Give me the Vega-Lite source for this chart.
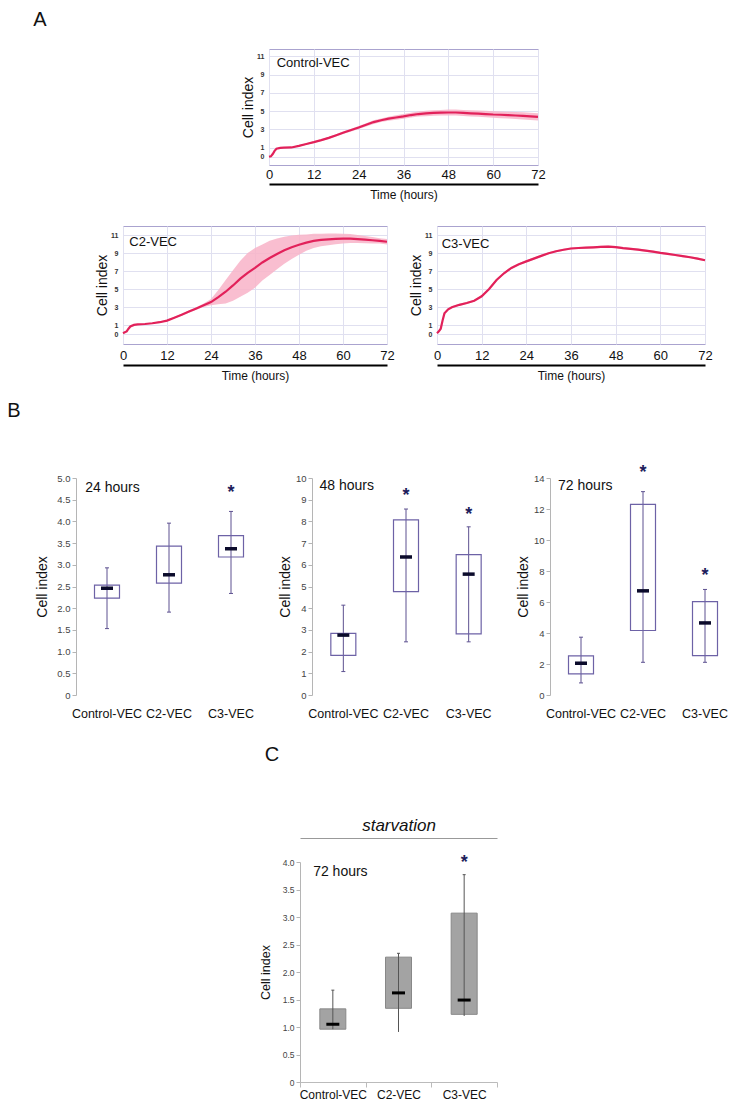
{
 "$schema": "https://vega.github.io/schema/vega-lite/v6.json",
 "padding": 0,
 "background": "white",
 "spacing": 8,
 "config": {
  "font": "Liberation Sans",
  "view": {"stroke": null},
  "axis": {"titleFontWeight": "normal", "labelFont": "Liberation Sans", "titleFont": "Liberation Sans", "titleColor": "#111111"},
  "tick": {"opacity": 1}
 },
 "datasets": {
  "ci": [
   {"panel":"Control-VEC","t":0,"v":0,"lo":0,"hi":0},
   {"panel":"Control-VEC","t":0.5,"v":0.05,"lo":0.03,"hi":0.07},
   {"panel":"Control-VEC","t":1,"v":0.3,"lo":0.26,"hi":0.34},
   {"panel":"Control-VEC","t":1.5,"v":0.65,"lo":0.6,"hi":0.7},
   {"panel":"Control-VEC","t":2,"v":0.88,"lo":0.83,"hi":0.93},
   {"panel":"Control-VEC","t":3,"v":0.98,"lo":0.93,"hi":1.03},
   {"panel":"Control-VEC","t":4,"v":1.0,"lo":0.95,"hi":1.05},
   {"panel":"Control-VEC","t":6,"v":1.02,"lo":0.96,"hi":1.08},
   {"panel":"Control-VEC","t":8,"v":1.2,"lo":1.13,"hi":1.27},
   {"panel":"Control-VEC","t":10,"v":1.4,"lo":1.32,"hi":1.48},
   {"panel":"Control-VEC","t":12,"v":1.6,"lo":1.5,"hi":1.7},
   {"panel":"Control-VEC","t":14,"v":1.82,"lo":1.72,"hi":1.92},
   {"panel":"Control-VEC","t":16,"v":2.07,"lo":1.95,"hi":2.19},
   {"panel":"Control-VEC","t":18,"v":2.35,"lo":2.23,"hi":2.47},
   {"panel":"Control-VEC","t":20,"v":2.65,"lo":2.51,"hi":2.79},
   {"panel":"Control-VEC","t":22,"v":2.93,"lo":2.78,"hi":3.08},
   {"panel":"Control-VEC","t":24,"v":3.2,"lo":3.04,"hi":3.36},
   {"panel":"Control-VEC","t":26,"v":3.5,"lo":3.32,"hi":3.68},
   {"panel":"Control-VEC","t":28,"v":3.8,"lo":3.6,"hi":4.0},
   {"panel":"Control-VEC","t":30,"v":4.0,"lo":3.8,"hi":4.2},
   {"panel":"Control-VEC","t":32,"v":4.17,"lo":3.95,"hi":4.39},
   {"panel":"Control-VEC","t":34,"v":4.3,"lo":4.06,"hi":4.54},
   {"panel":"Control-VEC","t":36,"v":4.42,"lo":4.17,"hi":4.67},
   {"panel":"Control-VEC","t":38,"v":4.57,"lo":4.31,"hi":4.83},
   {"panel":"Control-VEC","t":40,"v":4.68,"lo":4.4,"hi":4.96},
   {"panel":"Control-VEC","t":42,"v":4.75,"lo":4.45,"hi":5.05},
   {"panel":"Control-VEC","t":44,"v":4.8,"lo":4.5,"hi":5.1},
   {"panel":"Control-VEC","t":46,"v":4.83,"lo":4.53,"hi":5.13},
   {"panel":"Control-VEC","t":48,"v":4.85,"lo":4.53,"hi":5.17},
   {"panel":"Control-VEC","t":50,"v":4.85,"lo":4.53,"hi":5.17},
   {"panel":"Control-VEC","t":52,"v":4.8,"lo":4.47,"hi":5.13},
   {"panel":"Control-VEC","t":54,"v":4.76,"lo":4.42,"hi":5.1},
   {"panel":"Control-VEC","t":56,"v":4.72,"lo":4.37,"hi":5.07},
   {"panel":"Control-VEC","t":58,"v":4.68,"lo":4.33,"hi":5.03},
   {"panel":"Control-VEC","t":60,"v":4.63,"lo":4.27,"hi":4.99},
   {"panel":"Control-VEC","t":62,"v":4.6,"lo":4.23,"hi":4.97},
   {"panel":"Control-VEC","t":64,"v":4.56,"lo":4.18,"hi":4.94},
   {"panel":"Control-VEC","t":66,"v":4.52,"lo":4.14,"hi":4.9},
   {"panel":"Control-VEC","t":68,"v":4.48,"lo":4.09,"hi":4.87},
   {"panel":"Control-VEC","t":70,"v":4.43,"lo":4.03,"hi":4.83},
   {"panel":"Control-VEC","t":72,"v":4.37,"lo":3.97,"hi":4.77},
   {"panel":"C2-VEC","t":0,"v":0.1,"lo":0.1,"hi":0.1},
   {"panel":"C2-VEC","t":0.5,"v":0.2,"lo":0.18,"hi":0.22},
   {"panel":"C2-VEC","t":1,"v":0.3,"lo":0.27,"hi":0.33},
   {"panel":"C2-VEC","t":1.5,"v":0.6,"lo":0.56,"hi":0.64},
   {"panel":"C2-VEC","t":2,"v":0.85,"lo":0.8,"hi":0.9},
   {"panel":"C2-VEC","t":3,"v":1.02,"lo":0.97,"hi":1.07},
   {"panel":"C2-VEC","t":4,"v":1.08,"lo":1.03,"hi":1.13},
   {"panel":"C2-VEC","t":6,"v":1.12,"lo":1.06,"hi":1.18},
   {"panel":"C2-VEC","t":8,"v":1.2,"lo":1.14,"hi":1.26},
   {"panel":"C2-VEC","t":10,"v":1.32,"lo":1.25,"hi":1.39},
   {"panel":"C2-VEC","t":12,"v":1.5,"lo":1.42,"hi":1.58},
   {"panel":"C2-VEC","t":14,"v":1.82,"lo":1.72,"hi":1.92},
   {"panel":"C2-VEC","t":16,"v":2.15,"lo":2.05,"hi":2.25},
   {"panel":"C2-VEC","t":18,"v":2.5,"lo":2.38,"hi":2.62},
   {"panel":"C2-VEC","t":20,"v":2.85,"lo":2.71,"hi":2.99},
   {"panel":"C2-VEC","t":22,"v":3.2,"lo":3.0,"hi":3.4},
   {"panel":"C2-VEC","t":24,"v":3.55,"lo":3.2,"hi":3.9},
   {"panel":"C2-VEC","t":26,"v":4.1,"lo":3.3,"hi":4.9},
   {"panel":"C2-VEC","t":28,"v":4.7,"lo":3.4,"hi":6.0},
   {"panel":"C2-VEC","t":30,"v":5.4,"lo":3.7,"hi":7.1},
   {"panel":"C2-VEC","t":32,"v":6.15,"lo":4.15,"hi":8.15},
   {"panel":"C2-VEC","t":34,"v":6.8,"lo":4.6,"hi":9.0},
   {"panel":"C2-VEC","t":36,"v":7.35,"lo":5.15,"hi":9.55},
   {"panel":"C2-VEC","t":38,"v":7.95,"lo":5.95,"hi":9.95},
   {"panel":"C2-VEC","t":40,"v":8.45,"lo":6.55,"hi":10.35},
   {"panel":"C2-VEC","t":42,"v":8.9,"lo":7.2,"hi":10.6},
   {"panel":"C2-VEC","t":44,"v":9.3,"lo":7.8,"hi":10.8},
   {"panel":"C2-VEC","t":46,"v":9.65,"lo":8.35,"hi":10.95},
   {"panel":"C2-VEC","t":48,"v":9.92,"lo":8.82,"hi":11.02},
   {"panel":"C2-VEC","t":50,"v":10.15,"lo":9.25,"hi":11.05},
   {"panel":"C2-VEC","t":52,"v":10.35,"lo":9.55,"hi":11.15},
   {"panel":"C2-VEC","t":54,"v":10.45,"lo":9.75,"hi":11.15},
   {"panel":"C2-VEC","t":56,"v":10.52,"lo":9.87,"hi":11.17},
   {"panel":"C2-VEC","t":58,"v":10.58,"lo":9.98,"hi":11.18},
   {"panel":"C2-VEC","t":60,"v":10.6,"lo":10.05,"hi":11.15},
   {"panel":"C2-VEC","t":62,"v":10.6,"lo":10.1,"hi":11.1},
   {"panel":"C2-VEC","t":64,"v":10.55,"lo":10.1,"hi":11.0},
   {"panel":"C2-VEC","t":66,"v":10.48,"lo":10.08,"hi":10.88},
   {"panel":"C2-VEC","t":68,"v":10.42,"lo":10.07,"hi":10.77},
   {"panel":"C2-VEC","t":70,"v":10.35,"lo":10.05,"hi":10.65},
   {"panel":"C2-VEC","t":72,"v":10.25,"lo":9.95,"hi":10.55},
   {"panel":"C3-VEC","t":0,"v":0.1,"lo":0.1,"hi":0.1},
   {"panel":"C3-VEC","t":0.5,"v":0.3,"lo":0.22,"hi":0.38},
   {"panel":"C3-VEC","t":1,"v":0.6,"lo":0.5,"hi":0.7},
   {"panel":"C3-VEC","t":1.5,"v":1.5,"lo":1.38,"hi":1.62},
   {"panel":"C3-VEC","t":2,"v":2.3,"lo":2.18,"hi":2.42},
   {"panel":"C3-VEC","t":3,"v":2.75,"lo":2.63,"hi":2.87},
   {"panel":"C3-VEC","t":4,"v":2.98,"lo":2.86,"hi":3.1},
   {"panel":"C3-VEC","t":6,"v":3.25,"lo":3.13,"hi":3.37},
   {"panel":"C3-VEC","t":8,"v":3.45,"lo":3.33,"hi":3.57},
   {"panel":"C3-VEC","t":10,"v":3.7,"lo":3.58,"hi":3.82},
   {"panel":"C3-VEC","t":12,"v":4.2,"lo":4.08,"hi":4.32},
   {"panel":"C3-VEC","t":14,"v":5.0,"lo":4.88,"hi":5.12},
   {"panel":"C3-VEC","t":16,"v":6.0,"lo":5.88,"hi":6.12},
   {"panel":"C3-VEC","t":18,"v":6.75,"lo":6.63,"hi":6.87},
   {"panel":"C3-VEC","t":20,"v":7.35,"lo":7.23,"hi":7.47},
   {"panel":"C3-VEC","t":22,"v":7.75,"lo":7.63,"hi":7.87},
   {"panel":"C3-VEC","t":24,"v":8.07,"lo":7.95,"hi":8.19},
   {"panel":"C3-VEC","t":26,"v":8.38,"lo":8.26,"hi":8.5},
   {"panel":"C3-VEC","t":28,"v":8.68,"lo":8.56,"hi":8.8},
   {"panel":"C3-VEC","t":30,"v":8.97,"lo":8.85,"hi":9.09},
   {"panel":"C3-VEC","t":32,"v":9.2,"lo":9.08,"hi":9.32},
   {"panel":"C3-VEC","t":34,"v":9.36,"lo":9.24,"hi":9.48},
   {"panel":"C3-VEC","t":36,"v":9.5,"lo":9.38,"hi":9.62},
   {"panel":"C3-VEC","t":38,"v":9.56,"lo":9.44,"hi":9.68},
   {"panel":"C3-VEC","t":40,"v":9.59,"lo":9.47,"hi":9.71},
   {"panel":"C3-VEC","t":42,"v":9.63,"lo":9.51,"hi":9.75},
   {"panel":"C3-VEC","t":44,"v":9.68,"lo":9.56,"hi":9.8},
   {"panel":"C3-VEC","t":46,"v":9.71,"lo":9.59,"hi":9.83},
   {"panel":"C3-VEC","t":48,"v":9.65,"lo":9.53,"hi":9.77},
   {"panel":"C3-VEC","t":50,"v":9.55,"lo":9.43,"hi":9.67},
   {"panel":"C3-VEC","t":52,"v":9.47,"lo":9.35,"hi":9.59},
   {"panel":"C3-VEC","t":54,"v":9.38,"lo":9.26,"hi":9.5},
   {"panel":"C3-VEC","t":56,"v":9.27,"lo":9.15,"hi":9.39},
   {"panel":"C3-VEC","t":58,"v":9.15,"lo":9.03,"hi":9.27},
   {"panel":"C3-VEC","t":60,"v":9.02,"lo":8.9,"hi":9.14},
   {"panel":"C3-VEC","t":62,"v":8.91,"lo":8.79,"hi":9.03},
   {"panel":"C3-VEC","t":64,"v":8.78,"lo":8.66,"hi":8.9},
   {"panel":"C3-VEC","t":66,"v":8.66,"lo":8.54,"hi":8.78},
   {"panel":"C3-VEC","t":68,"v":8.53,"lo":8.41,"hi":8.65},
   {"panel":"C3-VEC","t":70,"v":8.38,"lo":8.26,"hi":8.5},
   {"panel":"C3-VEC","t":72,"v":8.2,"lo":8.08,"hi":8.32}
  ],
  "alab": [
   {"panel":"Control-VEC","t":2.06,"v":10.23,"label":"Control-VEC"},
   {"panel":"C2-VEC","t":1.72,"v":10.22,"label":"C2-VEC"},
   {"panel":"C3-VEC","t":1.26,"v":10.04,"label":"C3-VEC"}
  ],
  "box": [
   {"panel":"24 hours","group":"Control-VEC","lo":1.53,"q1":2.23,"med":2.46,"q3":2.53,"hi":2.93,"star":null},
   {"panel":"24 hours","group":"C2-VEC","lo":1.91,"q1":2.58,"med":2.77,"q3":3.43,"hi":3.96,"star":null},
   {"panel":"24 hours","group":"C3-VEC","lo":2.34,"q1":3.18,"med":3.37,"q3":3.67,"hi":4.23,"star":4.65},
   {"panel":"48 hours","group":"Control-VEC","lo":1.08,"q1":1.83,"med":2.76,"q3":2.84,"hi":4.14,"star":null},
   {"panel":"48 hours","group":"C2-VEC","lo":2.45,"q1":4.76,"med":6.36,"q3":8.07,"hi":8.57,"star":9.16},
   {"panel":"48 hours","group":"C3-VEC","lo":2.45,"q1":2.82,"med":5.57,"q3":6.47,"hi":7.75,"star":8.29},
   {"panel":"72 hours","group":"Control-VEC","lo":0.78,"q1":1.36,"med":2.05,"q3":2.52,"hi":3.73,"star":null},
   {"panel":"72 hours","group":"C2-VEC","lo":2.11,"q1":4.16,"med":6.72,"q3":12.3,"hi":13.12,"star":14.3},
   {"panel":"72 hours","group":"C3-VEC","lo":2.11,"q1":2.54,"med":4.65,"q3":6.03,"hi":6.81,"star":7.7}
  ],
  "starv": [
   {"group":"Control-VEC","lo":0.96,"q1":0.96,"med":1.05,"q3":1.33,"hi":1.67,"star":null},
   {"group":"C2-VEC","lo":0.91,"q1":1.34,"med":1.62,"q3":2.27,"hi":2.34,"star":null},
   {"group":"C3-VEC","lo":1.2,"q1":1.23,"med":1.49,"q3":3.07,"hi":3.77,"star":3.99}
  ],
  "blab": [
   {"panel":"24 hours","group":"Control-VEC","v":4.77,"label":"24 hours"},
   {"panel":"48 hours","group":"Control-VEC","v":9.62,"label":"48 hours"},
   {"panel":"72 hours","group":"Control-VEC","v":13.5,"label":"72 hours"},
   {"panel":"starvation","group":"Control-VEC","v":3.81,"label":"72 hours"}
  ]
 },
 "vconcat": [
  {"width": 80, "height": 40, "data": {"values": [{"label": "A"}]}, "mark": {"type": "text", "fontSize": 20, "color": "#111111"}, "encoding": {"text": {"field": "label"}}},
  {"hconcat": [
    {"width": 219, "height": 168, "data": {"values": [{"s": ""}]}, "mark": "text", "encoding": {"text": {"field": "s"}}},
    {"width": 269, "height": 116, "view": {"stroke": "#aaa3cf"}, "data": {"name": "ci"},
     "encoding": {"x": {"field": "t", "type": "quantitative", "title": "Time (hours)", "scale": {"domain": [0, 72], "nice": false},
       "axis": {"values": [0,12,24,36,48,60,72], "tickCount": 30, "format": "d", "offset": 19, "domainColor": "#000000", "domainWidth": 2, "ticks": false, "labelPadding": -16, "labelFontSize": 13, "labelFlush": false, "labelColor": "#111111", "grid": true, "gridColor": "#e0e0f0", "titleFontSize": 12, "titlePadding": 5}}},
     "layer": [
      {"transform": [{"filter": "datum.panel == 'Control-VEC'"}], "mark": {"type": "area", "color": "#f8b3c8", "opacity": 0.85},
       "encoding": {"y": {"field": "lo", "type": "quantitative", "title": "Cell index", "scale": {"domain": [-0.9, 11.8], "nice": false, "zero": false},
         "axis": {"values": [0,1,3,5,7,9,11], "tickCount": 30, "format": "d", "labelOverlap": false, "labelFontSize": 7, "labelFontWeight": "bold", "labelColor": "#333333", "labelPadding": 5, "ticks": false, "domain": false, "grid": true, "gridColor": "#e0e0f0", "titleFontSize": 14, "titlePadding": 1, "minExtent": 0}},
        "y2": {"field": "hi"}}},
      {"transform": [{"filter": "datum.panel == 'Control-VEC'"}], "mark": {"type": "line", "color": "#e2215a", "strokeWidth": 2.2},
       "encoding": {"y": {"field": "v", "type": "quantitative", "title": "Cell index", "scale": {"domain": [-0.9, 11.8], "nice": false, "zero": false}}}},
      {"data": {"name": "alab"}, "transform": [{"filter": "datum.panel == 'Control-VEC'"}], "mark": {"type": "text", "align": "left", "fontSize": 13, "color": "#111111"},
       "encoding": {"y": {"field": "v", "type": "quantitative", "title": "Cell index", "scale": {"domain": [-0.9, 11.8], "nice": false, "zero": false}}, "text": {"field": "label"}}}
     ]}
   ], "spacing": 50, "bounds": "flush"},
  {"hconcat": [
    {"width": 73, "height": 165, "data": {"values": [{"s": ""}]}, "mark": "text", "encoding": {"text": {"field": "s"}}},
    {"width": 264, "height": 118, "view": {"stroke": "#aaa3cf"}, "data": {"name": "ci"},
     "encoding": {"x": {"field": "t", "type": "quantitative", "title": "Time (hours)", "scale": {"domain": [0, 72], "nice": false},
       "axis": {"values": [0,12,24,36,48,60,72], "tickCount": 30, "format": "d", "offset": 21, "domainColor": "#000000", "domainWidth": 2, "ticks": false, "labelPadding": -16, "labelFontSize": 13, "labelFlush": false, "labelColor": "#111111", "grid": true, "gridColor": "#e0e0f0", "titleFontSize": 12, "titlePadding": 5}}},
     "layer": [
      {"transform": [{"filter": "datum.panel == 'C2-VEC'"}], "mark": {"type": "area", "color": "#f8b3c8", "opacity": 0.85},
       "encoding": {"y": {"field": "lo", "type": "quantitative", "title": "Cell index", "scale": {"domain": [-1.1, 12], "nice": false, "zero": false},
         "axis": {"values": [0,1,3,5,7,9,11], "tickCount": 30, "format": "d", "labelOverlap": false, "labelFontSize": 7, "labelFontWeight": "bold", "labelColor": "#333333", "labelPadding": 5, "ticks": false, "domain": false, "grid": true, "gridColor": "#e0e0f0", "titleFontSize": 14, "titlePadding": 1, "minExtent": 0}},
        "y2": {"field": "hi"}}},
      {"transform": [{"filter": "datum.panel == 'C2-VEC'"}], "mark": {"type": "line", "color": "#e2215a", "strokeWidth": 2.2},
       "encoding": {"y": {"field": "v", "type": "quantitative", "title": "Cell index", "scale": {"domain": [-1.1, 12], "nice": false, "zero": false}}}},
      {"data": {"name": "alab"}, "transform": [{"filter": "datum.panel == 'C2-VEC'"}], "mark": {"type": "text", "align": "left", "fontSize": 13, "color": "#111111"},
       "encoding": {"y": {"field": "v", "type": "quantitative", "title": "Cell index", "scale": {"domain": [-1.1, 12], "nice": false, "zero": false}}, "text": {"field": "label"}}}
     ]},
    {"width": 268, "height": 118, "view": {"stroke": "#aaa3cf"}, "data": {"name": "ci"},
     "encoding": {"x": {"field": "t", "type": "quantitative", "title": "Time (hours)", "scale": {"domain": [0, 72], "nice": false},
       "axis": {"values": [0,12,24,36,48,60,72], "tickCount": 30, "format": "d", "offset": 21, "domainColor": "#000000", "domainWidth": 2, "ticks": false, "labelPadding": -16, "labelFontSize": 13, "labelFlush": false, "labelColor": "#111111", "grid": true, "gridColor": "#e0e0f0", "titleFontSize": 12, "titlePadding": 5}}},
     "layer": [
      {"transform": [{"filter": "datum.panel == 'C3-VEC'"}], "mark": {"type": "area", "color": "#f8b3c8", "opacity": 0.85},
       "encoding": {"y": {"field": "lo", "type": "quantitative", "title": "Cell index", "scale": {"domain": [-1.1, 12], "nice": false, "zero": false},
         "axis": {"values": [0,1,3,5,7,9,11], "tickCount": 30, "format": "d", "labelOverlap": false, "labelFontSize": 7, "labelFontWeight": "bold", "labelColor": "#333333", "labelPadding": 5, "ticks": false, "domain": false, "grid": true, "gridColor": "#e0e0f0", "titleFontSize": 14, "titlePadding": 1, "minExtent": 0}},
        "y2": {"field": "hi"}}},
      {"transform": [{"filter": "datum.panel == 'C3-VEC'"}], "mark": {"type": "line", "color": "#e2215a", "strokeWidth": 2.2},
       "encoding": {"y": {"field": "v", "type": "quantitative", "title": "Cell index", "scale": {"domain": [-1.1, 12], "nice": false, "zero": false}}}},
      {"data": {"name": "alab"}, "transform": [{"filter": "datum.panel == 'C3-VEC'"}], "mark": {"type": "text", "align": "left", "fontSize": 13, "color": "#111111"},
       "encoding": {"y": {"field": "v", "type": "quantitative", "title": "Cell index", "scale": {"domain": [-1.1, 12], "nice": false, "zero": false}}, "text": {"field": "label"}}}
     ]}
   ], "spacing": 50, "bounds": "flush"},
  {"vconcat": [
    {"width": 28, "height": 24, "data": {"values": [{"label": "B"}]}, "mark": {"type": "text", "fontSize": 20, "color": "#111111"}, "encoding": {"text": {"field": "label"}}},
    {"hconcat": [
      {"width": 26, "height": 246, "data": {"values": [{"s": ""}]}, "mark": "text", "encoding": {"text": {"field": "s"}}},
      {"width": 186, "height": 217, "data": {"name": "box"},
       "encoding": {"x": {"field": "group", "type": "nominal", "sort": ["Control-VEC","C2-VEC","C3-VEC"], "title": null, "scale": {"paddingInner": 0, "paddingOuter": 0},
         "axis": {"labelAngle": 0, "labelFontSize": 12.5, "labelColor": "#111111", "labelPadding": 12, "ticks": false, "domain": false}}},
       "layer": [
        {"transform": [{"filter": "datum.panel == '24 hours'"}], "mark": {"type": "rule", "color": "#5d5190"},
         "encoding": {"y": {"field": "lo", "type": "quantitative", "title": "Cell index", "scale": {"domain": [0, 5], "nice": false},
           "axis": {"values": [0,0.5,1,1.5,2,2.5,3,3.5,4,4.5,5], "tickCount": 30, "labelOverlap": false, "labelExpr": "datum.value == 0 ? '0' : format(datum.value, '.1f')", "labelFontSize": 9.5, "labelColor": "#444444", "labelPadding": 2, "tickSize": 4, "tickColor": "#b5b5b5", "domainColor": "#b5b5b5", "grid": false, "titleFontSize": 14, "titlePadding": 7, "minExtent": 0}},
          "y2": {"field": "hi"}}},
        {"transform": [{"filter": "datum.panel == '24 hours'"}], "mark": {"type": "tick", "color": "#5d5190", "size": 4, "thickness": 1},
         "encoding": {"y": {"field": "lo", "type": "quantitative", "title": "Cell index", "scale": {"domain": [0, 5], "nice": false}}}},
        {"transform": [{"filter": "datum.panel == '24 hours'"}], "mark": {"type": "tick", "color": "#5d5190", "size": 4, "thickness": 1},
         "encoding": {"y": {"field": "hi", "type": "quantitative", "title": "Cell index", "scale": {"domain": [0, 5], "nice": false}}}},
        {"transform": [{"filter": "datum.panel == '24 hours'"}], "mark": {"type": "bar", "size": 25, "filled": false, "color": "#6d62a6", "strokeWidth": 1.2},
         "encoding": {"y": {"field": "q1", "type": "quantitative", "title": "Cell index", "scale": {"domain": [0, 5], "nice": false}}, "y2": {"field": "q3"}}},
        {"transform": [{"filter": "datum.panel == '24 hours'"}], "mark": {"type": "tick", "color": "#0b0b2b", "size": 12, "thickness": 3.5, "opacity": 1},
         "encoding": {"y": {"field": "med", "type": "quantitative", "title": "Cell index", "scale": {"domain": [0, 5], "nice": false}}}},
        {"transform": [{"filter": "datum.panel == '24 hours' && isValid(datum.star)"}], "mark": {"type": "text", "fontSize": 18, "fontWeight": "bold", "color": "#1d1d5c"},
         "encoding": {"y": {"field": "star", "type": "quantitative", "title": "Cell index", "scale": {"domain": [0, 5], "nice": false}}, "text": {"value": "*"}}},
        {"data": {"name": "blab"}, "transform": [{"filter": "datum.panel == '24 hours'"}], "mark": {"type": "text", "align": "left", "fontSize": 14, "color": "#111111"},
         "encoding": {"x": {"field": "group", "type": "nominal", "sort": ["Control-VEC","C2-VEC","C3-VEC"], "title": null, "bandPosition": 0.15, "scale": {"paddingInner": 0, "paddingOuter": 0},
           "axis": {"labelAngle": 0, "labelFontSize": 12.5, "labelColor": "#111111", "labelPadding": 12, "ticks": false, "domain": false}},
          "y": {"field": "v", "type": "quantitative", "title": "Cell index", "scale": {"domain": [0, 5], "nice": false}}, "text": {"field": "label"}}}
       ]},
      {"width": 188, "height": 217, "data": {"name": "box"},
       "encoding": {"x": {"field": "group", "type": "nominal", "sort": ["Control-VEC","C2-VEC","C3-VEC"], "title": null, "scale": {"paddingInner": 0, "paddingOuter": 0},
         "axis": {"labelAngle": 0, "labelFontSize": 12.5, "labelColor": "#111111", "labelPadding": 12, "ticks": false, "domain": false}}},
       "layer": [
        {"transform": [{"filter": "datum.panel == '48 hours'"}], "mark": {"type": "rule", "color": "#5d5190"},
         "encoding": {"y": {"field": "lo", "type": "quantitative", "title": "Cell index", "scale": {"domain": [0, 10], "nice": false},
           "axis": {"values": [0,1,2,3,4,5,6,7,8,9,10], "tickCount": 30, "labelOverlap": false, "format": "d", "labelFontSize": 9.5, "labelColor": "#444444", "labelPadding": 2, "tickSize": 4, "tickColor": "#b5b5b5", "domainColor": "#b5b5b5", "grid": false, "titleFontSize": 14, "titlePadding": 3, "minExtent": 0}},
          "y2": {"field": "hi"}}},
        {"transform": [{"filter": "datum.panel == '48 hours'"}], "mark": {"type": "tick", "color": "#5d5190", "size": 4, "thickness": 1},
         "encoding": {"y": {"field": "lo", "type": "quantitative", "title": "Cell index", "scale": {"domain": [0, 10], "nice": false}}}},
        {"transform": [{"filter": "datum.panel == '48 hours'"}], "mark": {"type": "tick", "color": "#5d5190", "size": 4, "thickness": 1},
         "encoding": {"y": {"field": "hi", "type": "quantitative", "title": "Cell index", "scale": {"domain": [0, 10], "nice": false}}}},
        {"transform": [{"filter": "datum.panel == '48 hours'"}], "mark": {"type": "bar", "size": 25, "filled": false, "color": "#6d62a6", "strokeWidth": 1.2},
         "encoding": {"y": {"field": "q1", "type": "quantitative", "title": "Cell index", "scale": {"domain": [0, 10], "nice": false}}, "y2": {"field": "q3"}}},
        {"transform": [{"filter": "datum.panel == '48 hours'"}], "mark": {"type": "tick", "color": "#0b0b2b", "size": 12, "thickness": 3.5, "opacity": 1},
         "encoding": {"y": {"field": "med", "type": "quantitative", "title": "Cell index", "scale": {"domain": [0, 10], "nice": false}}}},
        {"transform": [{"filter": "datum.panel == '48 hours' && isValid(datum.star)"}], "mark": {"type": "text", "fontSize": 18, "fontWeight": "bold", "color": "#1d1d5c"},
         "encoding": {"y": {"field": "star", "type": "quantitative", "title": "Cell index", "scale": {"domain": [0, 10], "nice": false}}, "text": {"value": "*"}}},
        {"data": {"name": "blab"}, "transform": [{"filter": "datum.panel == '48 hours'"}], "mark": {"type": "text", "align": "left", "fontSize": 14, "color": "#111111"},
         "encoding": {"x": {"field": "group", "type": "nominal", "sort": ["Control-VEC","C2-VEC","C3-VEC"], "title": null, "bandPosition": 0.12, "scale": {"paddingInner": 0, "paddingOuter": 0},
           "axis": {"labelAngle": 0, "labelFontSize": 12.5, "labelColor": "#111111", "labelPadding": 12, "ticks": false, "domain": false}},
          "y": {"field": "v", "type": "quantitative", "title": "Cell index", "scale": {"domain": [0, 10], "nice": false}}, "text": {"field": "label"}}}
       ]},
      {"width": 186, "height": 217, "data": {"name": "box"},
       "encoding": {"x": {"field": "group", "type": "nominal", "sort": ["Control-VEC","C2-VEC","C3-VEC"], "title": null, "scale": {"paddingInner": 0, "paddingOuter": 0},
         "axis": {"labelAngle": 0, "labelFontSize": 12.5, "labelColor": "#111111", "labelPadding": 12, "ticks": false, "domain": false}}},
       "layer": [
        {"transform": [{"filter": "datum.panel == '72 hours'"}], "mark": {"type": "rule", "color": "#5d5190"},
         "encoding": {"y": {"field": "lo", "type": "quantitative", "title": "Cell index", "scale": {"domain": [0, 14], "nice": false},
           "axis": {"values": [0,2,4,6,8,10,12,14], "tickCount": 30, "labelOverlap": false, "format": "d", "labelFontSize": 9.5, "labelColor": "#444444", "labelPadding": 2, "tickSize": 4, "tickColor": "#b5b5b5", "domainColor": "#b5b5b5", "grid": false, "titleFontSize": 14, "titlePadding": 3, "minExtent": 0}},
          "y2": {"field": "hi"}}},
        {"transform": [{"filter": "datum.panel == '72 hours'"}], "mark": {"type": "tick", "color": "#5d5190", "size": 4, "thickness": 1},
         "encoding": {"y": {"field": "lo", "type": "quantitative", "title": "Cell index", "scale": {"domain": [0, 14], "nice": false}}}},
        {"transform": [{"filter": "datum.panel == '72 hours'"}], "mark": {"type": "tick", "color": "#5d5190", "size": 4, "thickness": 1},
         "encoding": {"y": {"field": "hi", "type": "quantitative", "title": "Cell index", "scale": {"domain": [0, 14], "nice": false}}}},
        {"transform": [{"filter": "datum.panel == '72 hours'"}], "mark": {"type": "bar", "size": 25, "filled": false, "color": "#6d62a6", "strokeWidth": 1.2},
         "encoding": {"y": {"field": "q1", "type": "quantitative", "title": "Cell index", "scale": {"domain": [0, 14], "nice": false}}, "y2": {"field": "q3"}}},
        {"transform": [{"filter": "datum.panel == '72 hours'"}], "mark": {"type": "tick", "color": "#0b0b2b", "size": 12, "thickness": 3.5, "opacity": 1},
         "encoding": {"y": {"field": "med", "type": "quantitative", "title": "Cell index", "scale": {"domain": [0, 14], "nice": false}}}},
        {"transform": [{"filter": "datum.panel == '72 hours' && isValid(datum.star)"}], "mark": {"type": "text", "fontSize": 18, "fontWeight": "bold", "color": "#1d1d5c"},
         "encoding": {"y": {"field": "star", "type": "quantitative", "title": "Cell index", "scale": {"domain": [0, 14], "nice": false}}, "text": {"value": "*"}}},
        {"data": {"name": "blab"}, "transform": [{"filter": "datum.panel == '72 hours'"}], "mark": {"type": "text", "align": "left", "fontSize": 14, "color": "#111111"},
         "encoding": {"x": {"field": "group", "type": "nominal", "sort": ["Control-VEC","C2-VEC","C3-VEC"], "title": null, "bandPosition": 0.13, "scale": {"paddingInner": 0, "paddingOuter": 0},
           "axis": {"labelAngle": 0, "labelFontSize": 12.5, "labelColor": "#111111", "labelPadding": 12, "ticks": false, "domain": false}},
          "y": {"field": "v", "type": "quantitative", "title": "Cell index", "scale": {"domain": [0, 14], "nice": false}}, "text": {"field": "label"}}}
       ]}
     ], "spacing": 50, "bounds": "flush"}
   ], "spacing": 41},
  {"vconcat": [
    {"width": 544, "height": 46, "data": {"values": [{"label": "C"}]}, "mark": {"type": "text", "fontSize": 20, "color": "#111111"}, "encoding": {"text": {"field": "label"}}},
    {"hconcat": [
      {"width": 250, "height": 10, "data": {"values": [{"s": ""}]}, "mark": "text", "encoding": {"text": {"field": "s"}}},
      {"width": 197, "height": 220, "data": {"name": "starv"},
       "resolve": {"axis": {"x": "independent"}},
       "layer": [
        {"mark": {"type": "bar", "size": 26, "color": "#a3a3a3", "stroke": "#888888", "strokeWidth": 1},
         "encoding": {"x": {"field": "group", "type": "nominal", "sort": ["Control-VEC","C2-VEC","C3-VEC"], "title": null, "scale": {"paddingInner": 0, "paddingOuter": 0},
           "axis": {"orient": "bottom", "labelAngle": 0, "labelFontSize": 12, "labelColor": "#111111", "labelPadding": 2, "tickBand": "extent", "tickSize": 5, "tickColor": "#bbbbbb", "domainColor": "#bbbbbb"}},
          "y": {"field": "q1", "type": "quantitative", "title": "Cell index", "scale": {"domain": [0, 4], "nice": false},
           "axis": {"values": [0,0.5,1,1.5,2,2.5,3,3.5,4], "tickCount": 30, "labelOverlap": false, "labelExpr": "datum.value == 0 ? '0' : format(datum.value, '.1f')", "labelFontSize": 8.5, "labelColor": "#444444", "labelPadding": 2, "tickSize": 4, "tickColor": "#b5b5b5", "domainColor": "#b5b5b5", "grid": false, "titleFontSize": 12.5, "titlePadding": 10, "minExtent": 0}},
          "y2": {"field": "q3"}}},
        {"mark": {"type": "rule", "color": "#555555"},
         "encoding": {"x": {"field": "group", "type": "nominal", "sort": ["Control-VEC","C2-VEC","C3-VEC"], "title": null, "scale": {"paddingInner": 0, "paddingOuter": 0}, "axis": null},
          "y": {"field": "lo", "type": "quantitative", "title": "Cell index", "scale": {"domain": [0, 4], "nice": false}}, "y2": {"field": "hi"}}},
        {"mark": {"type": "tick", "color": "#555555", "size": 3, "thickness": 1},
         "encoding": {"x": {"field": "group", "type": "nominal", "sort": ["Control-VEC","C2-VEC","C3-VEC"], "title": null, "scale": {"paddingInner": 0, "paddingOuter": 0}, "axis": null},
          "y": {"field": "hi", "type": "quantitative", "title": "Cell index", "scale": {"domain": [0, 4], "nice": false}}}},
        {"mark": {"type": "tick", "color": "#000000", "size": 13, "thickness": 3, "opacity": 1},
         "encoding": {"x": {"field": "group", "type": "nominal", "sort": ["Control-VEC","C2-VEC","C3-VEC"], "title": null, "scale": {"paddingInner": 0, "paddingOuter": 0}, "axis": null},
          "y": {"field": "med", "type": "quantitative", "title": "Cell index", "scale": {"domain": [0, 4], "nice": false}}}},
        {"transform": [{"filter": "isValid(datum.star)"}], "mark": {"type": "text", "fontSize": 18, "fontWeight": "bold", "color": "#1d1d5c"},
         "encoding": {"x": {"field": "group", "type": "nominal", "sort": ["Control-VEC","C2-VEC","C3-VEC"], "scale": {"paddingInner": 0, "paddingOuter": 0},
           "axis": {"orient": "top", "title": "starvation", "labels": false, "ticks": false, "domainColor": "#999999", "domainWidth": 1, "offset": 24, "titleFontStyle": "italic", "titleFontSize": 17, "titlePadding": 4}},
          "y": {"field": "star", "type": "quantitative", "title": "Cell index", "scale": {"domain": [0, 4], "nice": false}}, "text": {"value": "*"}}},
        {"data": {"name": "blab"}, "transform": [{"filter": "datum.panel == 'starvation'"}], "mark": {"type": "text", "align": "left", "fontSize": 14, "color": "#111111"},
         "encoding": {"x": {"field": "group", "type": "nominal", "sort": ["Control-VEC","C2-VEC","C3-VEC"], "title": null, "bandPosition": 0.2, "scale": {"paddingInner": 0, "paddingOuter": 0}, "axis": null},
          "y": {"field": "v", "type": "quantitative", "title": "Cell index", "scale": {"domain": [0, 4], "nice": false}}, "text": {"field": "label"}}}
       ]}
     ], "spacing": 50, "bounds": "flush"}
   ], "spacing": 38}
 ]
}
